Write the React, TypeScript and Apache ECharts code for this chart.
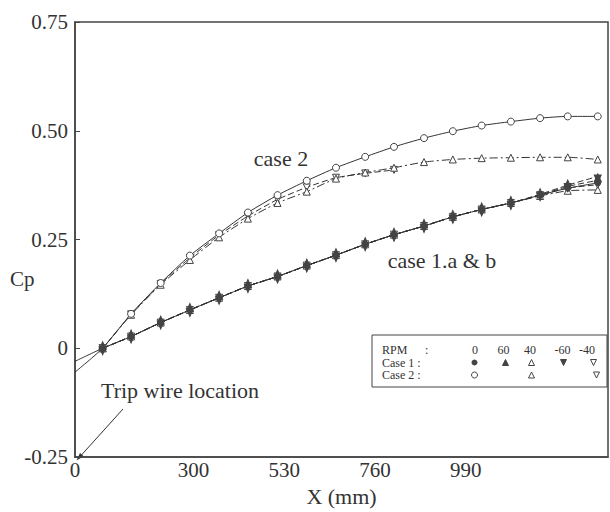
import React, { useEffect, useRef } from "react";
import * as echarts from "echarts";

// Station positions along the plate, X (mm)
const X_MM = [70, 142, 217, 291, 365, 438, 513, 587, 661, 735, 808, 884, 957, 1030, 1104, 1178, 1248, 1324];
const X_TICKS = [0, 300, 530, 760, 990];
const Y_TICKS = [-0.25, 0, 0.25, 0.5, 0.75];

// Case 1 (lower group, "case 1.a & b")
const CASE1_RPM0 = [0, 0.027, 0.059, 0.088, 0.116, 0.143, 0.165, 0.19, 0.214, 0.239, 0.261, 0.281, 0.302, 0.319, 0.334, 0.352, 0.368, 0.38];
const CASE1_RPM60 = [0, 0.027, 0.059, 0.088, 0.116, 0.143, 0.165, 0.19, 0.214, 0.239, 0.261, 0.281, 0.302, 0.319, 0.334, 0.352, 0.372, 0.386];
const CASE1_RPM40 = [0, 0.027, 0.059, 0.088, 0.116, 0.143, 0.165, 0.19, 0.214, 0.239, 0.261, 0.281, 0.302, 0.319, 0.334, 0.35, 0.362, 0.364];
const CASE1_RPMM60 = [0, 0.027, 0.059, 0.088, 0.116, 0.143, 0.165, 0.19, 0.214, 0.239, 0.261, 0.281, 0.302, 0.319, 0.334, 0.354, 0.375, 0.395];
const CASE1_RPMM40 = [0, 0.027, 0.059, 0.088, 0.116, 0.143, 0.165, 0.19, 0.214, 0.239, 0.261, 0.281, 0.302, 0.319, 0.334, 0.352, 0.368, 0.376];
const CASE1_LEAD = -0.03; // line extended back to X = 0

// Case 2 (upper group)
const CASE2_RPM0 = [0, 0.079, 0.15, 0.213, 0.264, 0.312, 0.352, 0.385, 0.415, 0.44, 0.463, 0.483, 0.499, 0.512, 0.521, 0.529, 0.533, 0.533];
const CASE2_RPM40 = [0, 0.077, 0.146, 0.203, 0.255, 0.298, 0.334, 0.36, 0.39, 0.404, 0.415, 0.428, 0.434, 0.437, 0.438, 0.439, 0.439, 0.434];
const CASE2_RPMM40 = [0, 0.078, 0.148, 0.208, 0.26, 0.304, 0.342, 0.37, 0.392, 0.402, 0.41];
const CASE2_LEAD = -0.055;

const INK = "#333";
const MARK = "#444";
const SERIF = "'Liberation Serif', 'DejaVu Serif', serif";

function pairs(vals: number[], lead?: number) {
  const d: any[] = vals.map((v, i) => [X_MM[i], v]);
  if (lead !== undefined) d.unshift({ value: [0, lead], symbol: "none" });
  return d;
}

const DASH = [6, 3];
const DASHDOT = [8, 3, 2, 3];

function lineSeries(name: string, data: any[], opts: any) {
  return {
    type: "line",
    name,
    data,
    smooth: 0.2,
    symbol: opts.symbol,
    symbolSize: opts.size,
    symbolRotate: opts.rotate || 0,
    symbolOffset: opts.offset || [0, 0],
    lineStyle: { color: INK, width: 1, type: opts.dash || "solid" },
    itemStyle: {
      color: opts.filled ? MARK : "#fff",
      borderColor: MARK,
      borderWidth: 1,
    },
    z: opts.z || 2,
  };
}

function tri(x: number, y: number, down: boolean, filled: boolean) {
  const h = 3;
  const w = 3;
  const pts = down
    ? [[x - w, y - h], [x + w, y - h], [x, y + h]]
    : [[x - w, y + h], [x + w, y + h], [x, y - h]];
  return {
    type: "polygon",
    shape: { points: pts },
    style: { fill: filled ? MARK : "#fff", stroke: MARK, lineWidth: 1 },
  };
}

export default function App() {
  const ref = useRef<HTMLDivElement>(null);
  useEffect(() => {
    if (!ref.current) return;
    const chart = echarts.init(ref.current, null, { renderer: "svg" });
    const legendFont = { fontFamily: SERIF, fontSize: 12, fill: INK };
    const rowY = [350, 362.5, 375];
    const hdr = ["0", "60", "40", "-60", "-40"];
    const hdrX = [475, 503.5, 530, 562.5, 587];

    const option: any = {
      animation: false,
      backgroundColor: "#fff",
      grid: {
        left: 75,
        right: 2,
        top: 22,
        bottom: 50,
        show: true,
        borderColor: MARK,
        borderWidth: 1.5,
        backgroundColor: "transparent",
      },
      xAxis: {
        type: "value",
        min: 0,
        max: 1350,
        name: "X (mm)",
        nameLocation: "middle",
        nameGap: 28,
        nameTextStyle: { fontFamily: SERIF, fontSize: 22, color: INK },
        axisLine: { onZero: false, lineStyle: { color: MARK, width: 1.5 } },
        axisTick: { show: false },
        splitLine: { show: false },
        axisLabel: {
          customValues: X_TICKS,
          fontFamily: SERIF,
          fontSize: 21,
          color: INK,
          margin: 2,
        },
      },
      yAxis: {
        type: "value",
        min: Y_TICKS[0],
        max: Y_TICKS[Y_TICKS.length - 1],
        interval: 0.25,
        axisLine: { show: true, onZero: false, lineStyle: { color: MARK, width: 1.5 } },
        axisTick: { show: true, inside: true, length: 5, lineStyle: { color: MARK } },
        splitLine: { show: false },
        axisLabel: {
          fontFamily: SERIF,
          fontSize: 21,
          color: INK,
          margin: 7,
          formatter: (v: number) => (Math.abs(v) < 1e-9 ? "0" : v.toFixed(2)),
        },
      },
      series: [
        // Case 2
        lineSeries("Case 2 RPM -40", pairs(CASE2_RPMM40), { symbol: "triangle", size: 7, rotate: 180, dash: DASH }),
        lineSeries("Case 2 RPM 40", pairs(CASE2_RPM40), { symbol: "triangle", size: 7, dash: DASHDOT }),
        lineSeries("Case 2 RPM 0", pairs(CASE2_RPM0, CASE2_LEAD), { symbol: "circle", size: 7 }),
        // Case 1
        lineSeries("Case 1 RPM 40", pairs(CASE1_RPM40), { symbol: "triangle", size: 7, dash: DASHDOT }),
        lineSeries("Case 1 RPM -40", pairs(CASE1_RPMM40), { symbol: "triangle", size: 7, rotate: 180, dash: DASH }),
        lineSeries("Case 1 RPM 60", pairs(CASE1_RPM60), { symbol: "triangle", size: [7, 8], offset: [0, -2.5], filled: true, dash: DASH, z: 3 }),
        lineSeries("Case 1 RPM -60", pairs(CASE1_RPMM60), { symbol: "triangle", size: [7, 8], rotate: 180, offset: [0, 2.5], filled: true, dash: DASH, z: 3 }),
        lineSeries("Case 1 RPM 0", pairs(CASE1_RPM0, CASE1_LEAD), { symbol: "circle", size: 6, filled: true, z: 3 }),
      ],
      graphic: [
        { type: "text", left: 10, top: 268, style: { text: "Cp", font: `21px ${SERIF}`, fill: INK } },
        { type: "text", x: 281, y: 158, style: { text: "case 2", font: `22px ${SERIF}`, fill: INK, align: "center", verticalAlign: "middle" } },
        { type: "text", x: 442, y: 260, style: { text: "case 1.a & b", font: `22px ${SERIF}`, fill: INK, align: "center", verticalAlign: "middle" } },
        { type: "text", x: 180, y: 390, style: { text: "Trip wire location", font: `22px ${SERIF}`, fill: INK, align: "center", verticalAlign: "middle" } },
        { type: "line", shape: { x1: 123, y1: 409, x2: 81, y2: 455.5 }, style: { stroke: INK, lineWidth: 1 } },
        {
          type: "polygon",
          shape: { points: [[76.5, 460.5], [83.7, 456.2], [80.0, 452.9]] },
          style: { fill: INK },
        },
        // RPM legend table
        {
          type: "group",
          children: [
            { type: "rect", shape: { x: 372, y: 335, width: 235, height: 52 }, style: { fill: "#fff", stroke: MARK, lineWidth: 1 } },
            { type: "text", x: 382, y: rowY[0], style: { ...legendFont, text: "RPM", verticalAlign: "middle" } },
            { type: "text", x: 425, y: rowY[0], style: { ...legendFont, text: ":", verticalAlign: "middle" } },
            { type: "text", x: 382, y: rowY[1], style: { ...legendFont, text: "Case 1 :", verticalAlign: "middle" } },
            { type: "text", x: 382, y: rowY[2], style: { ...legendFont, text: "Case 2 :", verticalAlign: "middle" } },
            ...hdr.map((t, i) => ({
              type: "text",
              x: hdrX[i],
              y: rowY[0],
              style: { ...legendFont, text: t, align: "center", verticalAlign: "middle" },
            })),
            { type: "circle", shape: { cx: 474.5, cy: rowY[1], r: 3 }, style: { fill: MARK } },
            tri(505.5, rowY[1], false, true),
            tri(531.5, rowY[1], false, false),
            tri(563.5, rowY[1], true, true),
            tri(593.5, rowY[1], true, false),
            { type: "circle", shape: { cx: 474.5, cy: rowY[2], r: 3 }, style: { fill: "#fff", stroke: MARK, lineWidth: 1 } },
            tri(531.5, rowY[2], false, false),
            tri(596.5, rowY[2], true, false),
          ],
        },
      ],
    };
    chart.setOption(option);
    return () => chart.dispose();
  }, []);
  return (
    <div
      ref={ref}
      style={{ position: "absolute", left: 0, top: 0, width: 610, height: 512 }}
    />
  );
}
